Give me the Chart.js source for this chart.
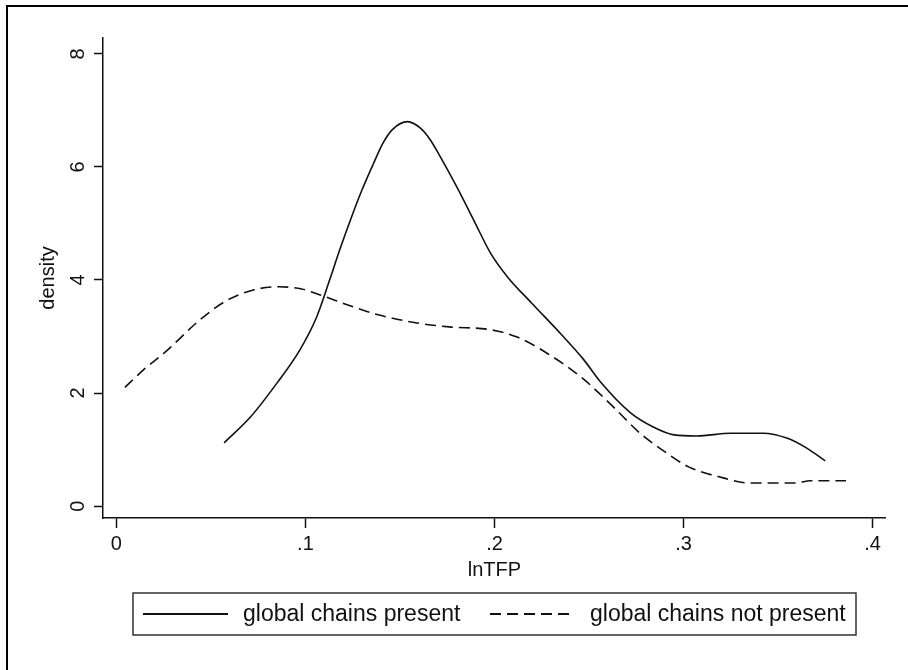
<!DOCTYPE html>
<html>
<head>
<meta charset="utf-8">
<script src="https://cdn.jsdelivr.net/npm/chart.js@4.4.1/dist/chart.umd.min.js"></script>
<style>
  html, body { margin: 0; padding: 0; background: #fff; }
  #wrap { width: 908px; height: 670px; }
</style>
</head>
<body>
<div id="wrap"><canvas id="chart" width="908" height="670"></canvas></div>
<script>
// kernel density of lnTFP
var presentX = [0.057, 0.071, 0.085, 0.097, 0.106, 0.113, 0.118, 0.124, 0.130, 0.136, 0.141, 0.146, 0.154, 0.161, 0.166, 0.171, 0.180, 0.189, 0.198, 0.207, 0.220, 0.235, 0.247, 0.256, 0.272, 0.284, 0.295, 0.307, 0.325, 0.342, 0.355, 0.365, 0.375];
var presentY = [1.12, 1.58, 2.18, 2.76, 3.35, 4.02, 4.52, 5.08, 5.60, 6.06, 6.42, 6.66, 6.80, 6.68, 6.48, 6.20, 5.65, 5.06, 4.47, 4.05, 3.58, 3.05, 2.60, 2.20, 1.65, 1.40, 1.26, 1.24, 1.29, 1.29, 1.20, 1.03, 0.80];

var notPresentX = [0.0045, 0.014, 0.027, 0.044, 0.058, 0.072, 0.086, 0.098, 0.109, 0.124, 0.139, 0.159, 0.176, 0.198, 0.212, 0.228, 0.247, 0.263, 0.277, 0.291, 0.303, 0.321, 0.334, 0.360, 0.367, 0.386];
var notPresentY = [2.10, 2.40, 2.76, 3.29, 3.63, 3.82, 3.88, 3.84, 3.72, 3.54, 3.38, 3.24, 3.17, 3.12, 2.99, 2.70, 2.25, 1.75, 1.29, 0.94, 0.69, 0.50, 0.41, 0.41, 0.45, 0.45];

var seriesLabels = ['global chains present', 'global chains not present'];
var xTicks = [0, 0.1, 0.2, 0.3, 0.4];
var yTicks = [0, 2, 4, 6, 8];
var xTitle = 'lnTFP';
var yTitle = 'density';

var FONT = '"Liberation Sans", Arial, sans-serif';
var INK = '#111';

function points(xs, ys) {
  return xs.map(function (x, i) { return { x: x, y: ys[i] }; });
}

function tickLabel(v) {
  if (v === 0) return '0';
  return String(v).replace(/^0\./, '.');
}

// frame, rotated y labels, titles and legend box (stata style)
var stataDecor = {
  id: 'stataDecor',
  beforeDraw: function (chart) {
    var ctx = chart.ctx;
    ctx.save();
    ctx.fillStyle = '#fff';
    ctx.fillRect(0, 0, chart.width, chart.height);
    ctx.strokeStyle = '#000';
    ctx.lineWidth = 2;
    ctx.beginPath();
    ctx.moveTo(7, chart.height);
    ctx.lineTo(7, 6);
    ctx.lineTo(chart.width, 6);
    ctx.stroke();
    ctx.restore();
  },
  afterDraw: function (chart) {
    var ctx = chart.ctx;
    var y = chart.scales.y;
    var area = chart.chartArea;
    ctx.save();
    ctx.fillStyle = INK;
    ctx.font = '20px ' + FONT;
    ctx.textAlign = 'center';
    ctx.textBaseline = 'middle';
    yTicks.forEach(function (v) {
      var py = y.getPixelForValue(v);
      ctx.save();
      ctx.translate(78, py);
      ctx.rotate(-Math.PI / 2);
      ctx.fillText(tickLabel(v), 0, 0);
      ctx.restore();
    });
    ctx.save();
    ctx.translate(48, (area.top + area.bottom) / 2);
    ctx.rotate(-Math.PI / 2);
    ctx.fillText(yTitle, 0, 0);
    ctx.restore();
    ctx.fillText(xTitle, chart.scales.x.getPixelForValue(0.2), 570);

    // legend
    var bx = 133, by = 593, bw = 723, bh = 42, my = by + bh / 2;
    ctx.strokeStyle = '#333';
    ctx.lineWidth = 1.5;
    ctx.strokeRect(bx, by, bw, bh);
    var samples = [{ x0: 143, x1: 228, tx: 243 }, { x0: 490, x1: 575, tx: 590 }];
    chart.data.datasets.forEach(function (ds, i) {
      var s = samples[i];
      ctx.strokeStyle = ds.borderColor;
      ctx.lineWidth = 2;
      ctx.setLineDash(ds.borderDash || []);
      ctx.beginPath();
      ctx.moveTo(s.x0, my);
      ctx.lineTo(s.x1, my);
      ctx.stroke();
      ctx.setLineDash([]);
      ctx.textAlign = 'left';
      ctx.font = '23px ' + FONT;
      ctx.fillText(ds.label, s.tx, my + 1);
    });
    ctx.restore();
  }
};

new Chart(document.getElementById('chart'), {
  type: 'line',
  data: {
    datasets: [{
      label: seriesLabels[0],
      data: points(presentX, presentY),
      borderColor: '#111',
      borderWidth: 1.6,
      pointRadius: 0,
      cubicInterpolationMode: 'monotone',
      fill: false
    }, {
      label: seriesLabels[1],
      data: points(notPresentX, notPresentY),
      borderColor: '#111',
      borderWidth: 1.6,
      borderDash: [11, 6],
      pointRadius: 0,
      cubicInterpolationMode: 'monotone',
      fill: false
    }]
  },
  options: {
    responsive: false,
    animation: false,
    layout: { padding: { left: 0, right: 23, top: 38, bottom: 0 } },
    plugins: { legend: { display: false }, tooltip: { enabled: false } },
    scales: {
      x: {
        type: 'linear',
        min: -0.0071,
        max: 0.4066,
        afterBuildTicks: function (scale) {
          scale.ticks = xTicks.map(function (v) { return { value: v }; });
        },
        afterFit: function (scale) { scale.height = 152; },
        grid: { drawOnChartArea: false, drawTicks: true, tickLength: 10, tickWidth: 1.5, tickColor: INK },
        border: { display: true, color: INK, width: 1.5 },
        ticks: {
          color: INK,
          padding: 4,
          maxRotation: 0,
          font: { family: FONT, size: 20 },
          callback: function (v) { return tickLabel(v); }
        }
      },
      y: {
        type: 'linear',
        min: -0.21,
        max: 8.28,
        afterBuildTicks: function (scale) {
          scale.ticks = yTicks.map(function (v) { return { value: v }; });
        },
        afterFit: function (scale) { scale.width = 103; },
        grid: { drawOnChartArea: false, drawTicks: true, tickLength: 9, tickWidth: 1.5, tickColor: INK },
        border: { display: true, color: INK, width: 1.5 },
        ticks: { display: false }
      }
    }
  },
  plugins: [stataDecor]
});
</script>
</body>
</html>
